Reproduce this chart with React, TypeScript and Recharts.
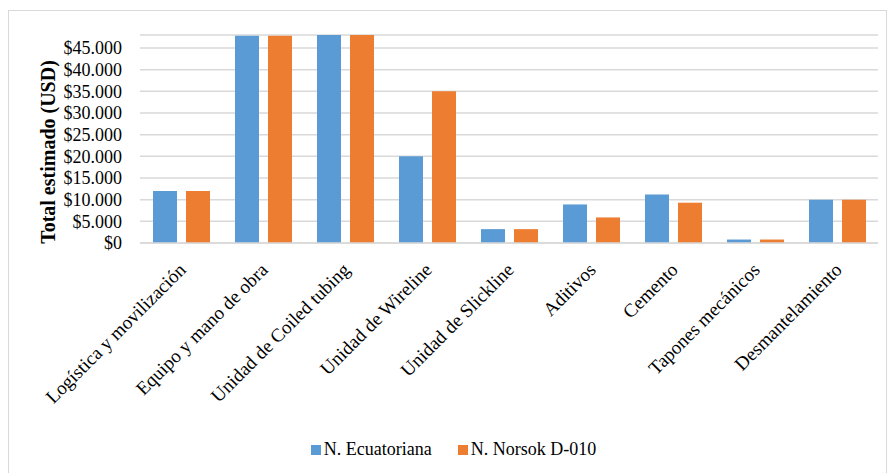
import { Bar, BarChart, CartesianGrid, Legend, XAxis, YAxis } from "recharts"

const categories = [
  "Logística y movilización",
  "Equipo y mano de obra",
  "Unidad de Coiled tubing",
  "Unidad de Wireline",
  "Unidad de Slickline",
  "Aditivos",
  "Cemento",
  "Tapones mecánicos",
  "Desmantelamiento",
]

const ecuatoriana = [12000, 47800, 48000, 20000, 3200, 8900, 11200, 800, 10000]
const norsok = [12000, 47800, 48000, 35000, 3200, 5900, 9300, 800, 10000]

const yTicks = [0, 5000, 10000, 15000, 20000, 25000, 30000, 35000, 40000, 45000]

const data = categories.map((name, i) => ({
  name,
  ecuatoriana: ecuatoriana[i],
  norsok: norsok[i],
}))

const FONT = "Liberation Serif, serif"
const BLUE = "#5B9BD5"
const ORANGE = "#ED7D31"

const money = (v: number) => "$" + String(v).replace(/\B(?=(\d{3})+(?!\d))/g, ".")

function XTick(props: any) {
  const { x, y, payload } = props
  return (
    <g transform={`translate(${x + 6},${y + 20})`}>
      <text
        x={0}
        y={0}
        textAnchor="end"
        transform="rotate(-45)"
        fontFamily={FONT}
        fontSize={19}
        fill="#000"
      >
        {payload.value}
      </text>
    </g>
  )
}

function YLabel(props: any) {
  const vb = props.viewBox
  const cx = vb.x + 39
  const cy = vb.y + vb.height / 2 + 13
  return (
    <text
      x={cx}
      y={cy}
      transform={`rotate(-90, ${cx}, ${cy})`}
      textAnchor="middle"
      dominantBaseline="central"
      fontFamily={FONT}
      fontSize={20}
      fontWeight="bold"
      fill="#000"
    >
      Total estimado (USD)
    </text>
  )
}

function LegendContent() {
  const items = [
    { label: "N. Ecuatoriana", color: BLUE },
    { label: "N. Norsok D-010", color: ORANGE },
  ]
  return (
    <div
      style={{
        display: "flex",
        justifyContent: "center",
        gap: 26,
        paddingLeft: 20,
        fontFamily: FONT,
        fontSize: 18,
        color: "#000",
      }}
    >
      {items.map((it) => (
        <div key={it.label} style={{ display: "flex", alignItems: "center" }}>
          <span style={{ width: 10, height: 10, background: it.color, display: "inline-block", marginRight: 3 }} />
          <span>{it.label}</span>
        </div>
      ))}
    </div>
  )
}

export default function App() {
  return (
    <div
      style={{
        position: "absolute",
        left: 8,
        top: 10,
        width: 877,
        height: 470,
        border: "1px solid #d9d9d9",
        background: "#fff",
      }}
    >
      <BarChart
        width={877}
        height={462}
        data={data}
        margin={{ top: 24, right: 8, left: 0, bottom: 6 }}
        barSize={24}
        barGap={9}
      >
        <CartesianGrid vertical={false} stroke="#d9d9d9" strokeWidth={1.5} />
        <XAxis
          dataKey="name"
          interval={0}
          height={196}
          tick={<XTick />}
          tickLine={false}
          axisLine={{ stroke: "#d9d9d9", strokeWidth: 1.5 }}
        />
        <YAxis
          width={131}
          domain={[0, 48000]}
          ticks={yTicks}
          interval={0}
          tickFormatter={money}
          tickLine={false}
          axisLine={false}
          tickMargin={12}
          tick={{ fontFamily: FONT, fontSize: 18, fill: "#000" }}
          label={<YLabel />}
        />
        <Legend verticalAlign="bottom" height={28} content={<LegendContent />} />
        <Bar dataKey="ecuatoriana" name="N. Ecuatoriana" fill={BLUE} isAnimationActive={false} />
        <Bar dataKey="norsok" name="N. Norsok D-010" fill={ORANGE} isAnimationActive={false} />
      </BarChart>
    </div>
  )
}
